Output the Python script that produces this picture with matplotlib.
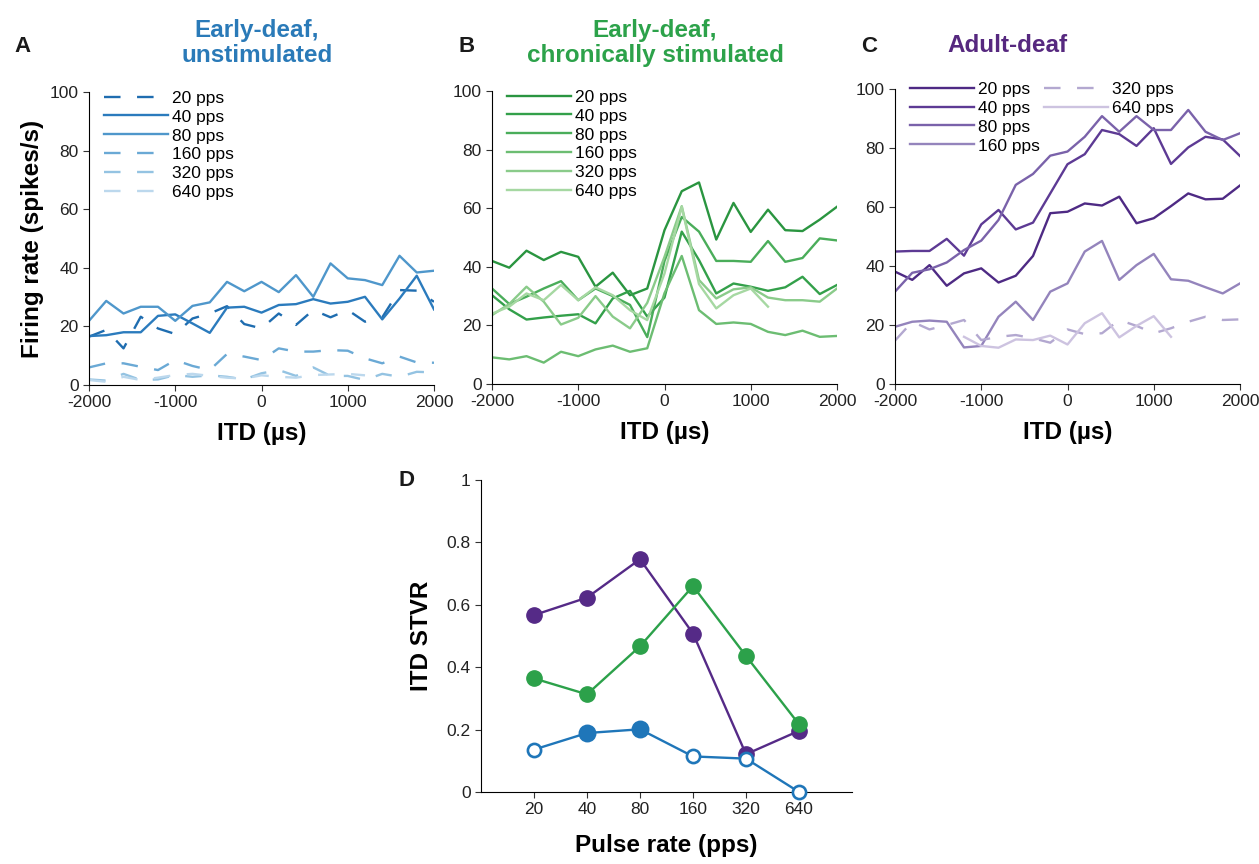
import numpy as np
import matplotlib.pyplot as plt

plt.rcParams['font.family'] = ['Liberation Sans', 'DejaVu Sans']
plt.rcParams['axes.unicode_minus'] = False

nan = np.nan
itd = np.arange(-2000, 2001, 200)
rates = ['20 pps', '40 pps', '80 pps', '160 pps', '320 pps', '640 pps']

# panel A: early-deaf, unstimulated
a_20 = [16.5, 18.8, 12.5, 23.3, 19.3, 17.4, 22.7, 24.4, 26.9, 20.8, 19.3, 24.4, 20.5, 25.6, 23.1, 25.6, 21.6, 23.1, 32.4, 32.2, 28.4]
a_40 = [16.7, 17.0, 18.0, 18.0, 23.6, 24.1, 21.0, 17.8, 26.4, 26.7, 24.7, 27.3, 27.6, 29.3, 27.8, 28.4, 30.1, 22.4, 29.5, 37.3, 25.8]
a_80 = [21.9, 28.7, 24.4, 26.7, 26.7, 21.9, 27.0, 28.2, 35.2, 32.0, 35.2, 31.7, 37.5, 30.1, 41.5, 36.4, 35.8, 34.1, 44.1, 38.4, 39.0]
a_160 = [6.0, 7.4, 7.4, 6.2, 5.1, 8.5, 6.5, 5.1, 10.6, 9.7, 8.5, 12.5, 11.4, 11.4, 11.9, 11.7, 9.1, 7.4, 9.7, 7.7, 7.6]
a_320 = [1.9, 1.5, 3.8, 1.7, 1.9, 3.4, 2.8, 3.3, 2.8, 1.9, 4.0, 5.1, 3.1, 6.0, 3.1, 3.1, 1.7, 3.8, 2.8, 4.5, 4.3]
a_640 = [1.7, 1.1, 2.8, 1.7, 2.5, 3.4, 3.8, 3.1, 2.5, 2.2, 3.3, 2.8, 2.5, 3.4, 3.6, 3.8, 3.3, nan, nan, nan, nan]

# panel B: early-deaf, chronically stimulated
b_20 = [42.0, 39.7, 45.5, 42.3, 45.1, 43.4, 33.2, 38.0, 30.3, 32.6, 52.5, 65.8, 68.8, 49.3, 61.8, 51.9, 59.5, 52.5, 52.2, 56.1, 60.5]
b_40 = [30.3, 25.5, 22.0, 22.7, 23.3, 23.8, 20.7, 29.2, 31.8, 23.0, 29.5, 52.0, 42.3, 30.9, 34.3, 33.2, 31.8, 33.0, 36.6, 30.7, 33.8]
b_80 = [32.6, 27.3, 29.8, 32.6, 35.1, 28.6, 32.6, 30.0, 27.0, 16.0, 42.0, 57.0, 52.0, 42.0, 42.0, 41.7, 48.8, 41.7, 43.0, 49.7, 49.0]
b_160 = [9.1, 8.4, 9.5, 7.3, 11.0, 9.5, 11.8, 13.1, 11.0, 12.2, 31.0, 43.7, 25.2, 20.5, 21.0, 20.5, 17.8, 16.7, 18.2, 16.1, 16.4]
b_320 = [23.5, 27.3, 33.2, 28.1, 20.3, 22.6, 30.0, 23.0, 19.0, 27.7, 43.4, 60.7, 35.5, 29.2, 32.3, 33.0, 29.5, 28.6, 28.6, 28.1, 32.6]
b_640 = [24.0, 26.4, 30.9, 28.6, 33.8, 28.6, 33.0, 30.3, 25.2, 21.8, 37.7, 60.5, 34.1, 25.8, 30.3, 32.6, 26.4, nan, nan, nan, nan]

# panel C: adult-deaf
c_20 = [38.1, 35.3, 40.3, 33.3, 37.5, 39.2, 34.4, 36.7, 43.4, 57.9, 58.4, 61.2, 60.5, 63.5, 54.5, 56.2, 60.3, 64.6, 62.6, 62.8, 67.3]
c_40 = [44.9, 45.1, 45.1, 49.2, 43.5, 54.1, 59.0, 52.4, 54.7, 64.6, 74.5, 77.9, 86.1, 84.7, 80.7, 86.7, 74.6, 80.2, 83.8, 82.9, 77.3]
c_80 = [31.3, 37.7, 38.9, 41.2, 45.4, 48.6, 55.6, 67.5, 71.2, 77.4, 78.8, 83.8, 90.8, 85.5, 90.8, 86.1, 86.1, 92.9, 85.5, 82.7, 85.0]
c_160 = [19.4, 21.1, 21.5, 21.1, 12.4, 12.9, 22.8, 27.9, 21.7, 31.3, 34.1, 44.9, 48.5, 35.3, 40.3, 44.1, 35.5, 35.0, 32.8, 30.7, 34.1]
c_320 = [14.7, 21.1, 18.5, 20.0, 21.7, 14.9, 16.0, 16.6, 15.5, 14.0, 18.5, 16.9, 17.2, 21.7, 19.7, 17.2, 18.9, 21.1, 22.8, 21.7, 21.9]
c_640 = [nan, nan, nan, nan, 16.0, 12.9, 12.3, 15.1, 14.9, 16.4, 13.4, 20.6, 24.0, 15.8, 19.7, 23.0, 16.0, nan, nan, nan, nan]

# panel D: ITD STVR
pulse_labels = ['20', '40', '80', '160', '320', '640']
stvr_adult = [0.567, 0.623, 0.746, 0.508, 0.121, 0.196]
stvr_stim = [0.364, 0.313, 0.467, 0.660, 0.436, 0.217]
stvr_unstim = [0.136, 0.189, 0.201, 0.114, 0.107, 0.0]
unstim_filled = [False, True, True, False, False, False]

blues = ['#1f6db0', '#2b7bbd', '#4f97cb', '#6aa9d5', '#94c3e2', '#bcd8ed']
greens = ['#2a9540', '#33a04a', '#4aad5a', '#6cbd72', '#8acb8a', '#a6d8a2']
purples = ['#4e2a84', '#5d3a94', '#7a62aa', '#9484bc', '#b3a8d0', '#cdc3e0']

W, H = 1259, 864
fig = plt.figure(figsize=(W / 100, H / 100), dpi=100)


def style(ax):
    for s in ['top', 'right']:
        ax.spines[s].set_visible(False)
    ax.tick_params(labelsize=12.5, length=4, direction='out', color='#333333', labelcolor='#222222')


def itd_panel(rect, series, colors, dashed, ylabel=False, ncol=1, leg_y=1.035):
    ax = fig.add_axes(rect)
    handles = []
    for vals, c, d, lab in zip(series, colors, dashed, rates):
        ln, = ax.plot(itd, vals, color=c, lw=1.7, label=lab)
        if d:
            ln.set_dashes((7, 7))
        handles.append(ln)
    ax.set_xlim(-2000, 2000)
    ax.set_ylim(0, 100)
    ax.set_xticks([-2000, -1000, 0, 1000, 2000])
    ax.set_yticks([0, 20, 40, 60, 80, 100])
    style(ax)
    ax.set_xlabel('ITD (µs)', fontsize=17.5, fontweight='bold', labelpad=8)
    if ylabel:
        ax.set_ylabel('Firing rate (spikes/s)', fontsize=17.5, fontweight='bold', labelpad=4)
    labels = list(rates)
    if ncol == 2:
        blank = plt.Line2D([], [], color='none')
        handles = handles + [blank, blank]
        labels = labels + ['', '']
    ax.legend(handles, labels, loc='upper left', bbox_to_anchor=(0.018, leg_y), frameon=False,
              fontsize=12.5, handlelength=3.7, handletextpad=0.25, labelspacing=0.22,
              borderpad=0, ncol=ncol, columnspacing=0.2)
    return ax


itd_panel([89 / W, 1 - 385 / H, 345 / W, 293 / H], [a_20, a_40, a_80, a_160, a_320, a_640], blues,
          [True, False, False, True, True, True], ylabel=True)
itd_panel([492 / W, 1 - 384 / H, 345 / W, 293 / H], [b_20, b_40, b_80, b_160, b_320, b_640], greens,
          [False] * 6)
itd_panel([895 / W, 1 - 384 / H, 345 / W, 295 / H], [c_20, c_40, c_80, c_160, c_320, c_640], purples,
          [False, False, False, False, True, False], ncol=2, leg_y=1.055)

tkw = dict(fontsize=17.5, fontweight='bold', ha='center', va='center', linespacing=1.1)
fig.text(257 / W, 1 - 43 / H, 'Early-deaf,\nunstimulated', color='#2a7ab8', **tkw)
fig.text(655 / W, 1 - 43 / H, 'Early-deaf,\nchronically stimulated', color='#2ca24a', **tkw)
fig.text(1007 / W, 1 - 45 / H, 'Adult-deaf', color='#56287f', **tkw)

lkw = dict(fontsize=16, fontweight='bold', va='center', color='#1a1a1a')
fig.text(14 / W, 1 - 46 / H, 'A', **lkw)
fig.text(459 / W, 1 - 46 / H, 'B', **lkw)
fig.text(861 / W, 1 - 46 / H, 'C', **lkw)
fig.text(398 / W, 1 - 480 / H, 'D', **lkw)

# panel D
axd = fig.add_axes([481 / W, 1 - 792 / H, 371 / W, 312 / H])
pos = np.arange(1, 7)
axd.plot(pos, stvr_adult, color='#552a87', lw=1.7, marker='o', ms=11, zorder=3)
axd.plot(pos, stvr_stim, color='#2ca14a', lw=1.7, marker='o', ms=11, zorder=3)
axd.plot(pos, stvr_unstim, color='#1f76b9', lw=1.7, zorder=3)
for p, v, f in zip(pos, stvr_unstim, unstim_filled):
    axd.plot(p, v, marker='o', ms=11 if f else 9.5, color='#1f76b9',
             mfc='#1f76b9' if f else 'white', mew=1.9, zorder=4, clip_on=False)
axd.set_xlim(0, 7)
axd.set_ylim(0, 1)
axd.set_xticks(pos)
axd.set_xticklabels(pulse_labels)
axd.set_yticks([0, 0.2, 0.4, 0.6, 0.8, 1])
axd.set_yticklabels(['0', '0.2', '0.4', '0.6', '0.8', '1'])
style(axd)
axd.set_xlabel('Pulse rate (pps)', fontsize=17.5, fontweight='bold', labelpad=12)
axd.set_ylabel('ITD STVR', fontsize=17.5, fontweight='bold', labelpad=10)

fig.savefig('out.png', dpi=100)
